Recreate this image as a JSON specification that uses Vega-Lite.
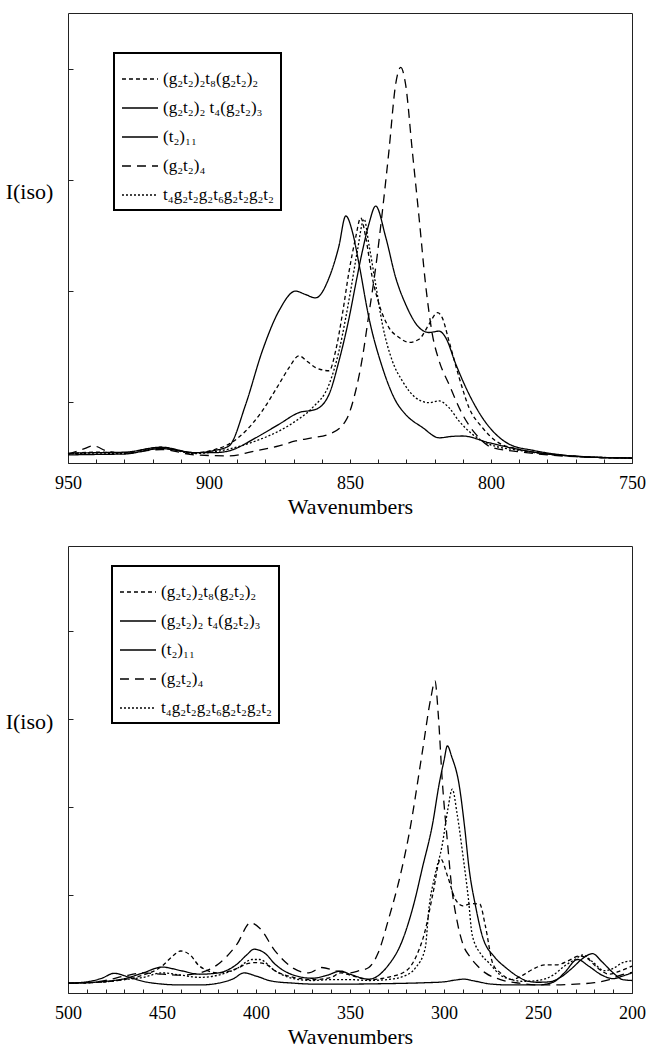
{
  "$schema": "https://vega.github.io/schema/vega-lite/v6.json",
  "padding": {"left": 4, "top": 12, "right": 8, "bottom": 5},
  "background": "white",
  "bounds": "flush",
  "spacing": 83,
  "config": {
    "font": "Liberation Serif",
    "view": {"stroke": "#222", "strokeWidth": 1},
    "axis": {"labelFont": "Liberation Serif", "titleFont": "Liberation Serif", "labelFontSize": 18, "titleFontSize": 22, "titleFontWeight": "normal", "labelColor": "#000", "titleColor": "#000", "domainColor": "#222", "tickColor": "#222", "grid": false},
    "legend": {"labelFont": "Liberation Serif", "labelFontSize": 16, "labelColor": "#000"}
  },
  "datasets": {
    "top": [
      {"s":"a","wn":950,"v":2.0},{"s":"a","wn":940,"v":2.4},{"s":"a","wn":930,"v":2.3},{"s":"a","wn":917,"v":3.5},{"s":"a","wn":905,"v":2.2},{"s":"a","wn":898,"v":3.0},{"s":"a","wn":892.9,"v":4.2},{"s":"a","wn":887,"v":7.1},{"s":"a","wn":881.1,"v":11.6},{"s":"a","wn":875.2,"v":17.5},{"s":"a","wn":871.6,"v":21.2},{"s":"a","wn":868.1,"v":23.8},{"s":"a","wn":865,"v":22.5},{"s":"a","wn":862.2,"v":21.2},{"s":"a","wn":857.4,"v":20.5},{"s":"a","wn":855.1,"v":24.9},{"s":"a","wn":852.7,"v":33.1},{"s":"a","wn":850.3,"v":42.7},{"s":"a","wn":848,"v":50.1},{"s":"a","wn":846.2,"v":54.5},{"s":"a","wn":844.4,"v":50.1},{"s":"a","wn":842.1,"v":41.2},{"s":"a","wn":839.7,"v":35.3},{"s":"a","wn":836.2,"v":30.1},{"s":"a","wn":832.6,"v":27.9},{"s":"a","wn":829.1,"v":26.8},{"s":"a","wn":825.5,"v":27.5},{"s":"a","wn":822,"v":30.8},{"s":"a","wn":819,"v":33.4},{"s":"a","wn":817.3,"v":32.3},{"s":"a","wn":814.9,"v":27.1},{"s":"a","wn":811.3,"v":19.0},{"s":"a","wn":807.8,"v":12.3},{"s":"a","wn":803.1,"v":7.9},{"s":"a","wn":798.3,"v":4.9},{"s":"a","wn":790,"v":3.0},{"s":"a","wn":780,"v":2.0},{"s":"a","wn":770,"v":1.5},{"s":"a","wn":760,"v":1.2},{"s":"a","wn":750,"v":1.1},
      {"s":"b","wn":950,"v":2.2},{"s":"b","wn":940,"v":2.3},{"s":"b","wn":930,"v":2.4},{"s":"b","wn":917,"v":3.5},{"s":"b","wn":905,"v":2.3},{"s":"b","wn":898,"v":2.8},{"s":"b","wn":892.9,"v":3.8},{"s":"b","wn":887,"v":13},{"s":"b","wn":881.1,"v":24.9},{"s":"b","wn":875.2,"v":33.8},{"s":"b","wn":869.3,"v":38.2},{"s":"b","wn":866,"v":37.5},{"s":"b","wn":862.2,"v":36.7},{"s":"b","wn":857.4,"v":41.2},{"s":"b","wn":854,"v":48},{"s":"b","wn":851.5,"v":54.9},{"s":"b","wn":849,"v":51},{"s":"b","wn":846.8,"v":44.2},{"s":"b","wn":843.3,"v":32.3},{"s":"b","wn":838.5,"v":21.2},{"s":"b","wn":833.8,"v":13.8},{"s":"b","wn":830.3,"v":10.8},{"s":"b","wn":824.3,"v":7.9},{"s":"b","wn":818.4,"v":5.6},{"s":"b","wn":814,"v":5.9},{"s":"b","wn":810.1,"v":6.0},{"s":"b","wn":800.7,"v":4.5},{"s":"b","wn":790,"v":3.0},{"s":"b","wn":780,"v":2.0},{"s":"b","wn":770,"v":1.5},{"s":"b","wn":760,"v":1.2},{"s":"b","wn":750,"v":1.1},
      {"s":"c","wn":950,"v":1.8},{"s":"c","wn":940,"v":1.9},{"s":"c","wn":930,"v":2.0},{"s":"c","wn":917,"v":3.2},{"s":"c","wn":905,"v":2.3},{"s":"c","wn":898,"v":2.3},{"s":"c","wn":892.9,"v":2.7},{"s":"c","wn":883.4,"v":5.6},{"s":"c","wn":875.2,"v":8.6},{"s":"c","wn":868.1,"v":11.2},{"s":"c","wn":862.2,"v":11.9},{"s":"c","wn":857.4,"v":15.3},{"s":"c","wn":853.9,"v":22.7},{"s":"c","wn":850.3,"v":32.3},{"s":"c","wn":848,"v":39.7},{"s":"c","wn":845.6,"v":47.1},{"s":"c","wn":843.3,"v":53.1},{"s":"c","wn":840.9,"v":57.1},{"s":"c","wn":837.3,"v":50.1},{"s":"c","wn":833.8,"v":41.2},{"s":"c","wn":830.3,"v":35.3},{"s":"c","wn":825.5,"v":30.1},{"s":"c","wn":822,"v":29.0},{"s":"c","wn":818.4,"v":29.3},{"s":"c","wn":816.1,"v":27.9},{"s":"c","wn":812.5,"v":22.0},{"s":"c","wn":807.8,"v":15.3},{"s":"c","wn":803.1,"v":10.1},{"s":"c","wn":798.3,"v":6.4},{"s":"c","wn":793.6,"v":4.2},{"s":"c","wn":785,"v":2.8},{"s":"c","wn":775,"v":1.8},{"s":"c","wn":765,"v":1.3},{"s":"c","wn":750,"v":1.1},
      {"s":"d","wn":950,"v":2.0},{"s":"d","wn":945,"v":3.0},{"s":"d","wn":941,"v":3.8},{"s":"d","wn":936,"v":2.6},{"s":"d","wn":930,"v":2.2},{"s":"d","wn":917,"v":3.0},{"s":"d","wn":905,"v":1.8},{"s":"d","wn":892.9,"v":1.6},{"s":"d","wn":883.4,"v":2.7},{"s":"d","wn":875.2,"v":3.8},{"s":"d","wn":869.3,"v":4.9},{"s":"d","wn":863.3,"v":5.6},{"s":"d","wn":857.4,"v":6.4},{"s":"d","wn":851.5,"v":9.4},{"s":"d","wn":848,"v":16.0},{"s":"d","wn":845.6,"v":23.4},{"s":"d","wn":843.3,"v":33.1},{"s":"d","wn":840.9,"v":43.4},{"s":"d","wn":838.5,"v":56.0},{"s":"d","wn":836.2,"v":69.3},{"s":"d","wn":833.8,"v":84.2},{"s":"d","wn":832,"v":87.9},{"s":"d","wn":830.3,"v":84.2},{"s":"d","wn":827.9,"v":69.3},{"s":"d","wn":825.5,"v":54.5},{"s":"d","wn":823.2,"v":39.7},{"s":"d","wn":820.8,"v":28.6},{"s":"d","wn":818.4,"v":22.7},{"s":"d","wn":814.9,"v":17.5},{"s":"d","wn":810.1,"v":10.8},{"s":"d","wn":805.4,"v":6.4},{"s":"d","wn":799.5,"v":3.4},{"s":"d","wn":790,"v":2.5},{"s":"d","wn":780,"v":1.8},{"s":"d","wn":770,"v":1.4},{"s":"d","wn":750,"v":1.1},
      {"s":"e","wn":950,"v":2.0},{"s":"e","wn":940,"v":2.2},{"s":"e","wn":930,"v":2.1},{"s":"e","wn":917,"v":3.3},{"s":"e","wn":905,"v":2.1},{"s":"e","wn":898,"v":2.5},{"s":"e","wn":892.9,"v":3.1},{"s":"e","wn":883.4,"v":4.9},{"s":"e","wn":875.2,"v":7.1},{"s":"e","wn":869.3,"v":9.3},{"s":"e","wn":863.3,"v":12.3},{"s":"e","wn":857.4,"v":17.5},{"s":"e","wn":853.9,"v":24.9},{"s":"e","wn":851.5,"v":32.3},{"s":"e","wn":849.8,"v":38.2},{"s":"e","wn":847.4,"v":47.1},{"s":"e","wn":845,"v":54.2},{"s":"e","wn":843.3,"v":48.6},{"s":"e","wn":840.9,"v":39.7},{"s":"e","wn":838.5,"v":30.8},{"s":"e","wn":835,"v":22.7},{"s":"e","wn":831.4,"v":18.2},{"s":"e","wn":826.7,"v":14.5},{"s":"e","wn":822,"v":13.4},{"s":"e","wn":818.4,"v":13.8},{"s":"e","wn":814.9,"v":12.3},{"s":"e","wn":811.3,"v":9.3},{"s":"e","wn":806.6,"v":6.4},{"s":"e","wn":800.7,"v":4.2},{"s":"e","wn":790,"v":2.8},{"s":"e","wn":780,"v":2.0},{"s":"e","wn":770,"v":1.5},{"s":"e","wn":750,"v":1.1}
    ],
    "bottom": [
      {"s":"a","wn":500,"v":2.2},{"s":"a","wn":490,"v":2.3},{"s":"a","wn":480,"v":2.5},{"s":"a","wn":470,"v":3.0},{"s":"a","wn":460,"v":4.0},{"s":"a","wn":450,"v":6.0},{"s":"a","wn":445,"v":8.0},{"s":"a","wn":440,"v":9.4},{"s":"a","wn":435,"v":8.5},{"s":"a","wn":430,"v":6.0},{"s":"a","wn":420,"v":4.5},{"s":"a","wn":410,"v":5.5},{"s":"a","wn":405,"v":6.5},{"s":"a","wn":400,"v":6.8},{"s":"a","wn":395,"v":6.5},{"s":"a","wn":390,"v":5.0},{"s":"a","wn":380,"v":3.5},{"s":"a","wn":370,"v":3.0},{"s":"a","wn":360,"v":3.5},{"s":"a","wn":355,"v":4.5},{"s":"a","wn":350,"v":4.0},{"s":"a","wn":340,"v":3.0},{"s":"a","wn":330,"v":3.5},{"s":"a","wn":320,"v":5.0},{"s":"a","wn":315,"v":8},{"s":"a","wn":310,"v":14},{"s":"a","wn":306,"v":22},{"s":"a","wn":301.8,"v":30},{"s":"a","wn":298,"v":26},{"s":"a","wn":294,"v":21},{"s":"a","wn":290,"v":19.5},{"s":"a","wn":285,"v":20},{"s":"a","wn":281,"v":19.9},{"s":"a","wn":278,"v":15},{"s":"a","wn":274,"v":6.5},{"s":"a","wn":270,"v":4.5},{"s":"a","wn":264,"v":3.0},{"s":"a","wn":258,"v":4.0},{"s":"a","wn":252,"v":5.5},{"s":"a","wn":246,"v":6.3},{"s":"a","wn":240,"v":6.3},{"s":"a","wn":234,"v":7.2},{"s":"a","wn":228,"v":8.3},{"s":"a","wn":224,"v":7.8},{"s":"a","wn":218,"v":5.5},{"s":"a","wn":212,"v":4.2},{"s":"a","wn":206,"v":5.0},{"s":"a","wn":200,"v":6.0},
      {"s":"b","wn":500,"v":2.2},{"s":"b","wn":490,"v":2.3},{"s":"b","wn":480,"v":2.6},{"s":"b","wn":470,"v":3.2},{"s":"b","wn":460,"v":4.5},{"s":"b","wn":450,"v":5.8},{"s":"b","wn":440,"v":5.0},{"s":"b","wn":430,"v":4.2},{"s":"b","wn":420,"v":4.5},{"s":"b","wn":410,"v":6.5},{"s":"b","wn":405,"v":8.5},{"s":"b","wn":401,"v":9.8},{"s":"b","wn":395,"v":8.8},{"s":"b","wn":390,"v":6.5},{"s":"b","wn":380,"v":4.0},{"s":"b","wn":370,"v":3.3},{"s":"b","wn":362,"v":4.0},{"s":"b","wn":355,"v":4.9},{"s":"b","wn":350,"v":4.2},{"s":"b","wn":340,"v":3.1},{"s":"b","wn":330,"v":6.0},{"s":"b","wn":322.3,"v":11.6},{"s":"b","wn":316,"v":20},{"s":"b","wn":311.5,"v":28},{"s":"b","wn":306,"v":38},{"s":"b","wn":302.6,"v":46.7},{"s":"b","wn":300,"v":52},{"s":"b","wn":298.2,"v":55.3},{"s":"b","wn":296,"v":53},{"s":"b","wn":292,"v":46.7},{"s":"b","wn":289,"v":37},{"s":"b","wn":286.7,"v":28},{"s":"b","wn":283,"v":19},{"s":"b","wn":279.8,"v":13},{"s":"b","wn":273,"v":8},{"s":"b","wn":267.2,"v":5.7},{"s":"b","wn":260,"v":3.5},{"s":"b","wn":256,"v":2.7},{"s":"b","wn":250,"v":2.4},{"s":"b","wn":244,"v":2.5},{"s":"b","wn":238,"v":3.5},{"s":"b","wn":232,"v":5.5},{"s":"b","wn":226,"v":7.8},{"s":"b","wn":221,"v":8.8},{"s":"b","wn":216,"v":7.0},{"s":"b","wn":210,"v":4.5},{"s":"b","wn":205,"v":3.0},{"s":"b","wn":200,"v":2.8},
      {"s":"c","wn":500,"v":2.2},{"s":"c","wn":490,"v":2.5},{"s":"c","wn":482,"v":3.3},{"s":"c","wn":475.5,"v":4.4},{"s":"c","wn":468,"v":3.6},{"s":"c","wn":460,"v":2.6},{"s":"c","wn":450,"v":2.0},{"s":"c","wn":440,"v":1.8},{"s":"c","wn":430,"v":1.8},{"s":"c","wn":420,"v":2.2},{"s":"c","wn":412,"v":3.2},{"s":"c","wn":406.4,"v":4.5},{"s":"c","wn":400,"v":3.8},{"s":"c","wn":392,"v":2.7},{"s":"c","wn":380,"v":2.2},{"s":"c","wn":370,"v":2.0},{"s":"c","wn":350,"v":2.0},{"s":"c","wn":330,"v":2.1},{"s":"c","wn":310,"v":2.3},{"s":"c","wn":300,"v":2.5},{"s":"c","wn":294,"v":2.9},{"s":"c","wn":289.4,"v":3.1},{"s":"c","wn":284,"v":2.7},{"s":"c","wn":275,"v":2.0},{"s":"c","wn":265,"v":1.8},{"s":"c","wn":250,"v":1.8},{"s":"c","wn":242,"v":2.4},{"s":"c","wn":236,"v":4.5},{"s":"c","wn":229,"v":7.5},{"s":"c","wn":223,"v":6.0},{"s":"c","wn":216,"v":4.0},{"s":"c","wn":210,"v":3.2},{"s":"c","wn":205,"v":3.8},{"s":"c","wn":200,"v":4.5},
      {"s":"d","wn":500,"v":2.2},{"s":"d","wn":490,"v":2.3},{"s":"d","wn":480,"v":2.8},{"s":"d","wn":470,"v":3.8},{"s":"d","wn":460,"v":4.5},{"s":"d","wn":450,"v":4.2},{"s":"d","wn":440,"v":4.0},{"s":"d","wn":430,"v":4.5},{"s":"d","wn":420,"v":6.5},{"s":"d","wn":410,"v":11},{"s":"d","wn":403,"v":15.7},{"s":"d","wn":398,"v":14.5},{"s":"d","wn":390,"v":9.5},{"s":"d","wn":380,"v":5.5},{"s":"d","wn":372,"v":4.5},{"s":"d","wn":365,"v":5.7},{"s":"d","wn":358,"v":5.0},{"s":"d","wn":350,"v":4.5},{"s":"d","wn":345,"v":5.0},{"s":"d","wn":340,"v":5.7},{"s":"d","wn":335,"v":9},{"s":"d","wn":329.3,"v":16.8},{"s":"d","wn":324,"v":25},{"s":"d","wn":318.6,"v":35.5},{"s":"d","wn":311.5,"v":54},{"s":"d","wn":307,"v":66},{"s":"d","wn":304.8,"v":69.8},{"s":"d","wn":303,"v":62},{"s":"d","wn":301,"v":48},{"s":"d","wn":298,"v":33},{"s":"d","wn":296,"v":24},{"s":"d","wn":293,"v":16},{"s":"d","wn":290,"v":11},{"s":"d","wn":286,"v":8},{"s":"d","wn":282,"v":6},{"s":"d","wn":278,"v":4.5},{"s":"d","wn":270,"v":3.0},{"s":"d","wn":260,"v":2.2},{"s":"d","wn":250,"v":1.8},{"s":"d","wn":240,"v":1.8},{"s":"d","wn":230,"v":2.0},{"s":"d","wn":220,"v":2.3},{"s":"d","wn":212,"v":3.0},{"s":"d","wn":206,"v":4.0},{"s":"d","wn":200,"v":4.6},
      {"s":"e","wn":500,"v":2.2},{"s":"e","wn":490,"v":2.3},{"s":"e","wn":480,"v":2.5},{"s":"e","wn":470,"v":3.0},{"s":"e","wn":460,"v":3.5},{"s":"e","wn":450,"v":4.5},{"s":"e","wn":440,"v":4.0},{"s":"e","wn":430,"v":3.5},{"s":"e","wn":420,"v":4.0},{"s":"e","wn":410,"v":5.5},{"s":"e","wn":402,"v":7.5},{"s":"e","wn":398,"v":7.5},{"s":"e","wn":390,"v":5.0},{"s":"e","wn":380,"v":3.2},{"s":"e","wn":370,"v":2.8},{"s":"e","wn":360,"v":3.0},{"s":"e","wn":350,"v":3.0},{"s":"e","wn":340,"v":2.8},{"s":"e","wn":330,"v":3.0},{"s":"e","wn":320,"v":4.0},{"s":"e","wn":315,"v":5.7},{"s":"e","wn":310,"v":10},{"s":"e","wn":308,"v":19},{"s":"e","wn":305,"v":26},{"s":"e","wn":301,"v":33},{"s":"e","wn":298,"v":41},{"s":"e","wn":295.6,"v":45.6},{"s":"e","wn":293,"v":40},{"s":"e","wn":290,"v":31},{"s":"e","wn":287,"v":21},{"s":"e","wn":285,"v":13},{"s":"e","wn":280,"v":8.5},{"s":"e","wn":276,"v":6.7},{"s":"e","wn":270,"v":4.0},{"s":"e","wn":264,"v":3.0},{"s":"e","wn":258,"v":2.6},{"s":"e","wn":250,"v":2.8},{"s":"e","wn":242,"v":4.0},{"s":"e","wn":236,"v":6.0},{"s":"e","wn":230,"v":7.6},{"s":"e","wn":226.4,"v":8.5},{"s":"e","wn":221,"v":7.0},{"s":"e","wn":215,"v":5.0},{"s":"e","wn":210,"v":5.5},{"s":"e","wn":205,"v":6.8},{"s":"e","wn":200,"v":7.2}
    ]
  },
  "vconcat": [
    {
      "width": 564,
      "height": 450,
      "data": {"name": "top"},
      "mark": {"type": "line", "interpolate": "monotone", "strokeWidth": 1.3, "color": "black"},
      "encoding": {
        "x": {"field": "wn", "type": "quantitative",
          "scale": {"domain": [750, 950], "reverse": true, "nice": false, "zero": false},
          "axis": {"title": "Wavenumbers", "values": [750,760,770,780,790,800,810,820,830,840,850,860,870,880,890,900,910,920,930,940,950], "labelExpr": "datum.value % 50 === 0 ? datum.label : ''", "labelOverlap": false, "labelFlush": false, "tickSize": -4, "labelPadding": 15, "titlePadding": 4}},
        "y": {"field": "v", "type": "quantitative",
          "scale": {"domain": [0, 100], "nice": false},
          "axis": {"title": "I(iso)", "labels": false, "values": [13.6, 38.2, 62.9, 87.6], "tickSize": -5, "domain": false, "titleAngle": 0, "titleAlign": "center", "titleBaseline": "middle", "titleX": -39, "titleY": 178}},
        "strokeDash": {"field": "s", "type": "nominal",
          "scale": {"domain": ["a","b","c","d","e"], "range": [[4,3],[1,0],[1,0],[9,6],[2,2]]},
          "legend": {"orient": "none", "legendX": 46, "legendY": 40, "title": null, "symbolType": "stroke", "symbolSize": 1300, "symbolStrokeWidth": 1.4, "symbolStrokeColor": "black", "labelFontSize": 17, "labelLimit": 300, "rowPadding": 2, "padding": 7, "strokeColor": "black", "fillColor": "white",
            "labelExpr": "{'a':'(g₂t₂)₂t₈(g₂t₂)₂','b':'(g₂t₂)₂ t₄(g₂t₂)₃','c':'(t₂)₁₁','d':'(g₂t₂)₄','e':'t₄g₂t₂g₂t₆g₂t₂g₂t₂'}[datum.label]",
            "encode": {"legend": {"update": {"strokeWidth": {"value": 2}}}}}}
      }
    },
    {
      "width": 564,
      "height": 447,
      "data": {"name": "bottom"},
      "mark": {"type": "line", "interpolate": "monotone", "strokeWidth": 1.3, "color": "black"},
      "encoding": {
        "x": {"field": "wn", "type": "quantitative",
          "scale": {"domain": [200, 500], "reverse": true, "nice": false, "zero": false},
          "axis": {"title": "Wavenumbers", "values": [200,210,220,230,240,250,260,270,280,290,300,310,320,330,340,350,360,370,380,390,400,410,420,430,440,450,460,470,480,490,500], "labelExpr": "datum.value % 50 === 0 ? datum.label : ''", "labelOverlap": false, "labelFlush": false, "tickSize": -4, "labelPadding": 15, "titlePadding": 4}},
        "y": {"field": "v", "type": "quantitative",
          "scale": {"domain": [0, 100], "nice": false},
          "axis": {"title": "I(iso)", "labels": false, "values": [21.9, 41.6, 61.3, 80.9], "tickSize": -5, "domain": false, "titleAngle": 0, "titleAlign": "center", "titleBaseline": "middle", "titleX": -39, "titleY": 175}},
        "strokeDash": {"field": "s", "type": "nominal",
          "scale": {"domain": ["a","b","c","d","e"], "range": [[4,3],[1,0],[1,0],[9,6],[2,2]]},
          "legend": {"orient": "none", "legendX": 44, "legendY": 20, "title": null, "symbolType": "stroke", "symbolSize": 1300, "symbolStrokeWidth": 1.4, "symbolStrokeColor": "black", "labelFontSize": 17, "labelLimit": 300, "rowPadding": 2, "padding": 7, "strokeColor": "black", "fillColor": "white",
            "labelExpr": "{'a':'(g₂t₂)₂t₈(g₂t₂)₂','b':'(g₂t₂)₂ t₄(g₂t₂)₃','c':'(t₂)₁₁','d':'(g₂t₂)₄','e':'t₄g₂t₂g₂t₆g₂t₂g₂t₂'}[datum.label]",
            "encode": {"legend": {"update": {"strokeWidth": {"value": 2}}}}}}
      }
    }
  ],
  "resolve": {"scale": {"strokeDash": "independent"}, "legend": {"strokeDash": "independent"}}
}
